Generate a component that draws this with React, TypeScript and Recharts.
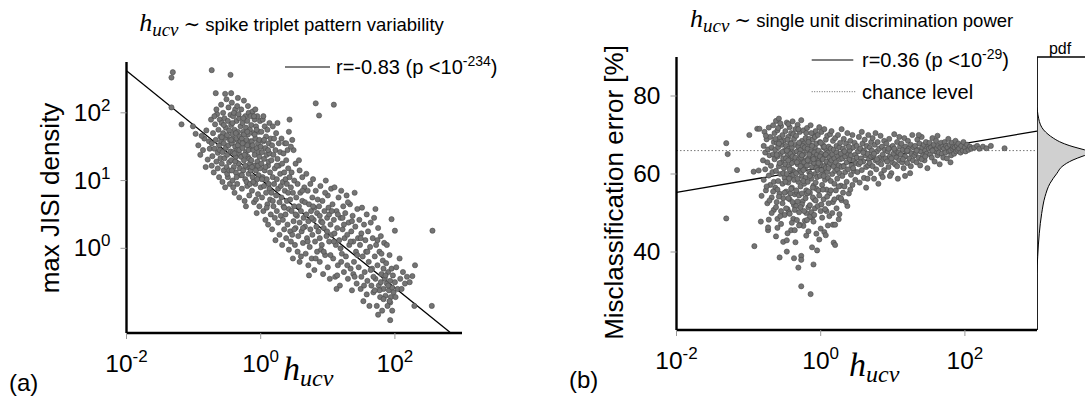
import React from 'react';
import { ComposedChart, Scatter, XAxis, YAxis, ReferenceLine, Area } from 'recharts';

// (a) log10(h_ucv) vs log10(max JISI density)
const jisiPoints: [number, number][] = [
  [-1.31, 2.6], [-1.33, 2.52], [-0.73, 2.63], [-0.45, 2.56], [-1.33, 2.08], [-1.18, 1.83], [-0.67, 2.29], [-0.44, 2.29],
  [-1.01, 1.8], [-0.97, 1.69], [0.82, 2.14], [1.09, 2.12], [0.87, 1.96], [2.56, 0.26], [2.55, -0.85], [1.95, 0.43],
  [2.0, 0.26], [2.26, -0.41], [1.93, -1.06], [1.93, -0.8], [2.29, -0.85],
  [-0.93, 1.52], [-0.9, 1.38], [-0.86, 1.45], [-0.84, 1.62], [-0.81, 1.74], [-0.79, 1.31], [-0.77, 1.58], [-0.76, 1.47], [-0.88, 1.66], [-0.82, 1.2],
  [-0.74, 1.9], [-0.73, 1.55], [-0.72, 1.36], [-0.71, 1.7], [-0.7, 1.12], [-0.69, 1.47], [-0.68, 1.83], [-0.67, 1.6], [-0.66, 1.28], [-0.65, 1.98],
  [-0.64, 1.41], [-0.63, 1.75], [-0.62, 1.52], [-0.62, 1.05], [-0.61, 1.9], [-0.6, 1.33], [-0.6, 1.65], [-0.73, 1.22], [-0.66, 2.05], [-0.64, 1.18],
  [-0.69, 1.95], [-0.61, 1.45],
  [-0.59, 2.12], [-0.59, 1.58], [-0.58, 1.25], [-0.58, 1.85], [-0.57, 0.98], [-0.57, 1.42], [-0.56, 1.7], [-0.56, 2.0], [-0.55, 1.15], [-0.55, 1.55],
  [-0.54, 1.33], [-0.54, 1.92], [-0.53, 1.63], [-0.53, 0.9], [-0.52, 1.48], [-0.52, 1.78], [-0.51, 2.2], [-0.51, 1.2], [-0.5, 1.38], [-0.5, 1.67],
  [-0.49, 1.05], [-0.49, 1.88], [-0.48, 1.52], [-0.48, 2.08], [-0.47, 1.27], [-0.47, 1.74], [-0.46, 1.6], [-0.46, 0.95], [-0.45, 1.43], [-0.45, 1.97],
  [-0.55, 1.82], [-0.5, 1.1], [-0.58, 1.64], [-0.53, 2.28], [-0.47, 1.15],
  [-0.44, 1.82], [-0.44, 1.3], [-0.43, 1.55], [-0.43, 2.15], [-0.42, 1.0], [-0.42, 1.68], [-0.41, 1.42], [-0.41, 1.95], [-0.4, 1.2], [-0.4, 1.6],
  [-0.39, 0.82], [-0.39, 1.75], [-0.38, 1.5], [-0.38, 2.05], [-0.37, 1.12], [-0.37, 1.35], [-0.36, 1.88], [-0.36, 1.62], [-0.35, 0.95], [-0.35, 1.45],
  [-0.34, 1.72], [-0.34, 2.22], [-0.33, 1.25], [-0.33, 1.55], [-0.32, 1.92], [-0.32, 0.75], [-0.31, 1.38], [-0.31, 1.65], [-0.3, 1.08], [-0.3, 1.8],
  [-0.42, 1.85], [-0.4, 2.0], [-0.38, 1.28], [-0.36, 1.05], [-0.34, 1.52], [-0.33, 1.98], [-0.31, 1.18], [-0.44, 1.6], [-0.41, 0.9], [-0.37, 1.7],
  [-0.35, 2.1], [-0.32, 1.45], [-0.43, 1.15], [-0.39, 1.4], [-0.3, 1.58],
  [-0.29, 2.05], [-0.29, 1.35], [-0.28, 1.62], [-0.28, 0.88], [-0.27, 1.48], [-0.27, 1.85], [-0.26, 1.15], [-0.26, 1.72], [-0.25, 1.3], [-0.25, 2.18],
  [-0.24, 0.7], [-0.24, 1.55], [-0.23, 1.95], [-0.23, 1.02], [-0.22, 1.42], [-0.22, 1.78], [-0.21, 1.2], [-0.21, 1.6], [-0.2, 0.92], [-0.2, 1.88],
  [-0.19, 1.35], [-0.19, 1.68], [-0.18, 2.0], [-0.18, 1.1], [-0.17, 1.5], [-0.17, 0.78], [-0.16, 1.75], [-0.16, 1.25], [-0.15, 1.58], [-0.15, 1.95],
  [-0.28, 1.08], [-0.26, 1.92], [-0.24, 1.38], [-0.22, 0.62], [-0.2, 1.52], [-0.19, 2.1], [-0.17, 1.32], [-0.25, 1.68], [-0.23, 1.22], [-0.21, 0.98],
  [-0.18, 1.45], [-0.16, 0.95], [-0.27, 1.55], [-0.2, 1.72], [-0.15, 1.15],
  [-0.14, 1.82], [-0.14, 1.3], [-0.13, 0.85], [-0.13, 1.58], [-0.12, 1.05], [-0.12, 2.02], [-0.11, 1.45], [-0.11, 1.7], [-0.1, 0.68], [-0.1, 1.22],
  [-0.09, 1.9], [-0.09, 1.38], [-0.08, 0.95], [-0.08, 1.62], [-0.07, 1.15], [-0.07, 1.8], [-0.06, 0.52], [-0.06, 1.48], [-0.05, 1.28], [-0.05, 1.95],
  [-0.04, 0.8], [-0.04, 1.55], [-0.03, 1.08], [-0.03, 1.72], [-0.02, 1.35], [-0.02, 0.62], [-0.01, 1.88], [-0.01, 1.18], [0.0, 1.5], [0.0, 0.9],
  [-0.13, 1.2], [-0.11, 0.98], [-0.09, 1.68], [-0.07, 0.72], [-0.05, 1.02], [-0.03, 1.42], [-0.12, 1.52], [-0.08, 2.05], [-0.06, 1.75], [-0.04, 1.22],
  [-0.02, 1.6], [-0.1, 1.95],
  [0.01, 1.72], [0.01, 1.25], [0.02, 0.75], [0.02, 1.42], [0.03, 1.9], [0.03, 1.05], [0.04, 0.55], [0.04, 1.58], [0.05, 1.32], [0.05, 0.92],
  [0.06, 1.8], [0.06, 1.15], [0.07, 0.42], [0.07, 1.48], [0.08, 1.65], [0.08, 0.82], [0.09, 1.02], [0.09, 1.38], [0.1, 0.65], [0.1, 1.75],
  [0.11, 1.22], [0.11, 0.35], [0.12, 1.55], [0.12, 0.95], [0.13, 1.4], [0.13, 1.85], [0.14, 0.72], [0.14, 1.12], [0.15, 1.62], [0.15, 0.5],
  [0.02, 1.02], [0.05, 1.6], [0.07, 1.2], [0.09, 0.6], [0.11, 1.45], [0.13, 0.88], [0.04, 1.95], [0.12, 1.28],
  [0.16, 1.3], [0.16, 0.82], [0.17, 1.52], [0.17, 0.28], [0.18, 1.05], [0.18, 1.8], [0.19, 0.62], [0.19, 1.38], [0.2, 0.95], [0.2, 1.62],
  [0.21, 0.45], [0.21, 1.18], [0.22, 1.45], [0.22, 0.12], [0.23, 0.78], [0.23, 1.7], [0.24, 1.02], [0.24, 0.55], [0.25, 1.32], [0.25, 1.85],
  [0.26, 0.38], [0.26, 0.88], [0.27, 1.22], [0.27, 1.55], [0.28, 0.68], [0.28, 0.2], [0.29, 1.1], [0.29, 1.42], [0.3, 0.48], [0.3, 0.92],
  [0.18, 0.7], [0.24, 1.22],
  [0.31, 1.62], [0.31, 0.75], [0.32, 1.25], [0.32, 0.05], [0.33, 0.98], [0.33, 0.42], [0.34, 1.4], [0.34, 0.62], [0.35, 1.12], [0.35, 0.28],
  [0.36, 0.85], [0.36, 1.55], [0.37, 0.5], [0.37, 1.02], [0.38, 0.15], [0.38, 1.3], [0.39, 0.7], [0.39, 0.95], [0.4, 1.45], [0.4, 0.35],
  [0.41, 0.82], [0.41, 1.18], [0.42, -0.02], [0.42, 0.58], [0.43, 1.05], [0.44, 0.72], [0.44, 0.25], [0.45, 0.9], [0.42, 1.72], [0.47, 1.6],
  [0.49, 1.45], [0.43, 1.9], [0.38, 1.55], [0.45, 1.5],
  [0.46, 0.55], [0.46, 1.12], [0.47, 0.2], [0.48, 0.82], [0.48, -0.15], [0.49, 0.4], [0.5, 1.0], [0.5, 0.62], [0.51, 0.05], [0.52, 1.25],
  [0.52, 0.3], [0.53, 0.75], [0.54, 0.48], [0.55, -0.05], [0.55, 0.95], [0.56, 0.18], [0.57, 0.62], [0.58, 1.15], [0.58, 0.38], [0.59, 0.82],
  [0.6, -0.12], [0.6, 0.55], [0.61, 0.25], [0.62, 1.05], [0.62, 0.7], [0.63, 0.08], [0.64, 0.45], [0.65, 0.9], [0.5, 0.28], [0.57, 1.3],
  [0.66, 0.32], [0.66, 0.68], [0.67, -0.08], [0.68, 1.1], [0.68, 0.5], [0.69, 0.15], [0.7, 0.85], [0.71, -0.25], [0.71, 0.4], [0.72, 0.65],
  [0.73, 0.02], [0.74, 0.95], [0.74, 0.28], [0.75, 0.55], [0.76, -0.15], [0.77, 0.75], [0.77, 0.2], [0.78, 1.02], [0.79, 0.42], [0.8, -0.32],
  [0.8, 0.6], [0.81, 0.1], [0.82, 0.85], [0.83, 0.32], [0.84, -0.05], [0.84, 0.52], [0.85, 0.72], [0.72, -0.4],
  [0.86, 0.25], [0.87, 0.62], [0.88, -0.2], [0.89, 0.92], [0.9, 0.4], [0.91, 0.05], [0.92, 0.7], [0.93, -0.38], [0.94, 0.3], [0.95, 0.55],
  [0.96, -0.1], [0.97, 1.0], [0.98, 0.18], [0.99, 0.45], [1.0, -0.28], [1.0, 0.78], [1.01, 0.6], [1.02, 0.1], [1.03, -0.45], [1.04, 0.35],
  [1.05, 0.88], [0.9, -0.02], [0.96, 0.82], [1.02, 0.5], [0.88, 0.48],
  [1.06, 0.2], [1.07, 0.65], [1.08, -0.15], [1.09, 0.42], [1.1, 0.9], [1.11, -0.42], [1.12, 0.05], [1.13, 0.55], [1.14, 0.3], [1.15, -0.25],
  [1.16, 0.75], [1.17, 0.12], [1.18, -0.55], [1.19, 0.45], [1.2, 0.85], [1.21, -0.08], [1.22, 0.28], [1.23, 0.62], [1.24, -0.35], [1.25, 0.15],
  [1.1, 0.22], [1.15, 0.5], [1.2, -0.2], [1.13, -0.6],
  [1.26, 0.52], [1.27, -0.12], [1.28, 0.78], [1.29, 0.2], [1.3, -0.45], [1.31, 0.38], [1.32, 0.05], [1.33, 0.65], [1.34, -0.3], [1.35, 0.25],
  [1.36, -0.62], [1.37, 0.48], [1.38, 0.1], [1.39, -0.2], [1.4, 0.82], [1.41, 0.32], [1.42, -0.05], [1.43, -0.52], [1.44, 0.58], [1.45, 0.15],
  [1.3, 0.68], [1.38, -0.38],
  [1.46, -0.28], [1.47, 0.42], [1.48, 0.05], [1.49, -0.6], [1.5, 0.22], [1.51, 0.6], [1.52, -0.12], [1.53, -0.78], [1.54, 0.35], [1.55, -0.35],
  [1.56, 0.12], [1.57, -0.05], [1.58, 0.5], [1.59, -0.48], [1.6, 0.25], [1.61, -0.2], [1.62, -0.85], [1.63, 0.02], [1.64, 0.38], [1.65, -0.55],
  [1.5, -0.42], [1.58, -0.68],
  [1.66, -0.3], [1.67, 0.15], [1.68, -0.65], [1.69, 0.45], [1.7, -0.12], [1.71, -0.45], [1.72, 0.05], [1.73, -0.85], [1.74, -0.25], [1.75, 0.3],
  [1.76, -0.55], [1.77, -0.05], [1.78, -0.72], [1.79, 0.18], [1.8, -0.38], [1.81, -0.92], [1.82, -0.18], [1.83, -0.6], [1.84, 0.08], [1.85, -0.45],
  [1.71, 0.58], [1.75, -0.98], [1.79, -0.5], [1.83, -0.3], [1.68, -0.42], [1.77, -0.62],
  [1.86, -0.7], [1.87, -0.22], [1.88, -0.52], [1.89, -0.85], [1.9, -0.35], [1.91, -0.62], [1.92, -0.1], [1.93, -0.48], [1.94, -0.72], [1.95, -0.3],
  [1.96, -0.58], [1.97, -0.4], [1.98, -0.65], [2.0, -0.5], [2.02, -0.28], [2.04, -0.6], [1.88, 0.05], [1.96, -0.92], [1.92, -0.78], [2.01, -0.72],
  [2.08, -0.45], [2.1, -0.6], [2.12, -0.35], [2.15, -0.52], [2.18, -0.42], [2.22, -0.5], [2.3, -0.25], [2.07, -0.15],
  [0.35, 0.6], [0.45, 0.1], [0.52, 0.5], [0.58, -0.2], [0.63, 0.3], [0.7, 0.1], [0.76, 0.45], [0.82, -0.15], [0.88, 0.15], [0.94, -0.05],
  [0.99, 0.25], [1.04, -0.1], [1.09, 0.1], [1.14, -0.4], [1.19, 0.0], [1.24, 0.35], [1.29, -0.25], [1.34, 0.1], [1.4, -0.42], [1.44, -0.1],
  [1.49, 0.15], [1.54, -0.55], [1.59, -0.05], [1.64, -0.32], [1.7, -0.62], [1.74, 0.12], [1.8, -0.08], [1.86, -0.4], [1.9, -0.55], [1.83, -0.75],
  [0.62, 0.85], [0.78, 0.62], [0.92, 0.38], [1.06, 0.55], [1.22, 0.45], [1.36, 0.4],
];
const jisiFit = [{ x: -2, y: 2.62 }, { x: 2.82, y: -1.24 }];
const jisiXTicks = [-2, 0, 2];
const jisiYTicks = [0, 1, 2];

// (b) log10(h_ucv) vs misclassification error [%]
const errPoints: [number, number][] = [
  [-1.31, 67.9], [-1.29, 65.1], [-1.16, 61.0], [-0.99, 70.0], [-1.31, 48.6], [-0.92, 41.5], [-0.88, 71.6], [-0.85, 71.6],
  [-0.93, 60.6], [-0.86, 60.9], [-0.82, 54.4], [-0.27, 31.2], [-0.14, 29.2], [-0.31, 36.0], [-0.1, 36.8], [2.55, 66.6], [1.8, 63.0],
  [-0.8, 63.5], [-0.79, 67.2], [-0.79, 58.5], [-0.78, 70.8], [-0.77, 61.2], [-0.77, 65.5], [-0.76, 55.8], [-0.75, 68.9], [-0.74, 63.0], [-0.74, 52.5],
  [-0.73, 66.3], [-0.72, 71.9], [-0.72, 59.6], [-0.71, 64.8], [-0.7, 57.2], [-0.7, 69.5], [-0.69, 62.1], [-0.68, 66.8], [-0.68, 54.0], [-0.67, 60.5],
  [-0.66, 72.5], [-0.66, 65.0], [-0.65, 58.0], [-0.65, 68.2], [-0.76, 69.8],
  [-0.64, 63.8], [-0.64, 70.5], [-0.63, 56.5], [-0.63, 66.2], [-0.62, 73.6], [-0.62, 60.8], [-0.61, 68.0], [-0.61, 52.8], [-0.6, 64.5], [-0.6, 71.2],
  [-0.59, 58.2], [-0.59, 66.9], [-0.58, 62.0], [-0.58, 74.2], [-0.57, 55.0], [-0.57, 69.3], [-0.56, 65.2], [-0.56, 60.0], [-0.55, 72.3], [-0.55, 50.5],
  [-0.54, 67.5], [-0.54, 63.0], [-0.53, 57.5], [-0.53, 70.0], [-0.52, 64.0], [-0.52, 53.8], [-0.51, 68.6], [-0.51, 61.5], [-0.5, 66.0], [-0.5, 59.0],
  [-0.63, 69.0], [-0.61, 64.9], [-0.59, 71.8], [-0.57, 62.8], [-0.55, 68.3], [-0.53, 65.7], [-0.6, 56.0], [-0.56, 73.0], [-0.52, 60.2], [-0.58, 67.8],
  [-0.49, 71.0], [-0.49, 62.5], [-0.48, 55.5], [-0.48, 67.2], [-0.47, 73.2], [-0.47, 60.0], [-0.46, 64.8], [-0.46, 51.0], [-0.45, 69.5], [-0.45, 57.8],
  [-0.44, 66.5], [-0.44, 62.0], [-0.43, 72.0], [-0.43, 53.5], [-0.42, 68.0], [-0.42, 59.2], [-0.41, 64.0], [-0.41, 70.5], [-0.4, 56.5], [-0.4, 66.8],
  [-0.39, 61.0], [-0.39, 73.5], [-0.38, 48.5], [-0.38, 65.5], [-0.37, 58.5], [-0.37, 69.0], [-0.36, 63.2], [-0.36, 54.8], [-0.35, 67.5], [-0.35, 71.5],
  [-0.48, 64.0], [-0.46, 68.8], [-0.44, 58.8], [-0.42, 65.2], [-0.4, 62.8], [-0.38, 70.2], [-0.36, 60.5], [-0.47, 66.0], [-0.45, 63.5], [-0.43, 61.2],
  [-0.41, 67.8], [-0.39, 64.5], [-0.37, 52.0], [-0.49, 58.0], [-0.45, 72.8], [-0.42, 55.0], [-0.38, 59.8], [-0.35, 64.2],
  [-0.34, 69.8], [-0.34, 60.2], [-0.33, 65.8], [-0.33, 55.2], [-0.32, 72.6], [-0.32, 62.5], [-0.31, 58.0], [-0.31, 67.0], [-0.3, 63.8], [-0.3, 50.2],
  [-0.29, 70.8], [-0.29, 61.0], [-0.28, 66.2], [-0.28, 56.8], [-0.27, 73.8], [-0.27, 64.2], [-0.26, 59.5], [-0.26, 68.5], [-0.25, 53.0], [-0.25, 62.8],
  [-0.24, 71.2], [-0.24, 65.0], [-0.23, 57.5], [-0.23, 67.8], [-0.22, 61.5], [-0.22, 48.0], [-0.21, 69.2], [-0.21, 63.5], [-0.2, 55.8], [-0.2, 66.0],
  [-0.33, 63.0], [-0.31, 71.5], [-0.29, 65.2], [-0.27, 60.5], [-0.25, 67.2], [-0.23, 63.0], [-0.21, 59.0], [-0.32, 58.8], [-0.3, 68.0], [-0.28, 62.0],
  [-0.26, 64.8], [-0.24, 58.2], [-0.22, 66.8], [-0.34, 51.8], [-0.3, 54.5], [-0.26, 52.2], [-0.24, 61.0], [-0.2, 70.5],
  [-0.19, 62.2], [-0.19, 71.8], [-0.18, 58.0], [-0.18, 66.5], [-0.17, 64.0], [-0.17, 51.5], [-0.16, 69.0], [-0.16, 60.5], [-0.15, 67.5], [-0.15, 55.2],
  [-0.14, 63.2], [-0.14, 72.5], [-0.13, 58.8], [-0.13, 65.8], [-0.12, 61.8], [-0.12, 48.8], [-0.11, 68.8], [-0.11, 64.5], [-0.1, 57.0], [-0.1, 70.2],
  [-0.09, 62.8], [-0.09, 53.5], [-0.08, 66.8], [-0.08, 60.0], [-0.07, 71.0], [-0.07, 64.0], [-0.06, 56.2], [-0.06, 67.8], [-0.05, 62.0], [-0.05, 59.2],
  [-0.18, 63.5], [-0.16, 65.0], [-0.14, 60.0], [-0.12, 67.2], [-0.1, 63.8], [-0.08, 69.5], [-0.06, 61.5], [-0.17, 68.2], [-0.15, 59.5], [-0.13, 70.5],
  [-0.11, 54.0], [-0.09, 65.5], [-0.07, 57.8], [-0.19, 55.0], [-0.05, 65.0],
  [-0.04, 70.0], [-0.04, 61.0], [-0.03, 66.0], [-0.03, 55.8], [-0.02, 63.5], [-0.02, 72.0], [-0.01, 59.5], [-0.01, 68.2], [0.0, 62.5], [0.0, 50.5],
  [0.01, 65.2], [0.01, 70.8], [0.02, 57.2], [0.02, 64.0], [0.03, 67.5], [0.03, 60.8], [0.04, 53.5], [0.04, 66.8], [0.05, 62.0], [0.05, 71.5],
  [0.06, 58.5], [0.06, 64.8], [0.07, 68.8], [0.07, 61.5], [0.08, 56.0], [0.08, 66.2], [0.09, 63.0], [0.09, 69.8], [0.1, 59.0], [0.1, 65.5],
  [-0.03, 62.8], [-0.01, 64.5], [0.01, 61.0], [0.03, 63.8], [0.05, 67.0], [0.07, 65.0], [0.09, 60.5], [0.0, 68.0], [0.04, 59.5], [0.08, 63.2],
  [0.11, 67.0], [0.11, 61.5], [0.12, 64.2], [0.12, 55.0], [0.13, 70.2], [0.13, 62.8], [0.14, 58.2], [0.14, 66.5], [0.15, 63.5], [0.15, 71.0],
  [0.16, 60.0], [0.16, 65.0], [0.17, 68.5], [0.17, 52.8], [0.18, 62.0], [0.18, 66.2], [0.19, 57.5], [0.19, 64.0], [0.2, 69.2], [0.2, 60.8],
  [0.21, 63.0], [0.21, 55.8], [0.22, 67.2], [0.22, 65.5], [0.23, 61.2], [0.23, 58.8], [0.24, 70.0], [0.24, 64.5], [0.25, 62.2], [0.25, 54.0],
  [0.26, 66.8], [0.26, 60.2], [0.27, 63.8], [0.27, 68.0], [0.28, 57.0], [0.28, 65.2], [0.29, 61.8], [0.29, 71.5], [0.3, 64.0], [0.3, 59.5],
  [0.31, 66.5], [0.32, 62.0], [0.32, 69.0], [0.33, 56.8], [0.34, 64.5], [0.34, 60.5], [0.35, 67.8], [0.36, 63.0], [0.36, 58.0], [0.37, 70.5],
  [0.38, 65.2], [0.38, 61.2], [0.39, 55.0], [0.4, 66.0], [0.4, 63.8], [0.41, 68.5], [0.42, 59.8], [0.42, 64.8], [0.43, 62.2], [0.44, 70.0],
  [0.44, 57.2], [0.45, 66.8], [0.46, 63.5], [0.46, 60.8], [0.47, 68.0], [0.48, 65.0], [0.48, 58.5], [0.49, 62.8], [0.5, 67.2], [0.5, 64.2],
  [0.33, 65.8], [0.39, 67.0], [0.45, 61.5], [0.41, 56.0],
  [0.51, 60.5], [0.52, 65.8], [0.53, 69.5], [0.53, 62.5], [0.54, 57.8], [0.55, 66.5], [0.56, 64.0], [0.57, 70.8], [0.57, 61.0], [0.58, 67.8],
  [0.59, 63.2], [0.6, 59.0], [0.6, 66.0], [0.61, 68.8], [0.62, 64.8], [0.63, 61.8], [0.63, 56.5], [0.64, 67.2], [0.65, 65.2], [0.66, 62.2],
  [0.66, 70.0], [0.67, 63.8], [0.68, 66.8], [0.69, 60.2], [0.7, 68.2], [0.7, 64.5], [0.55, 63.0], [0.59, 65.5], [0.65, 58.8], [0.68, 62.8],
  [0.71, 66.0], [0.72, 62.0], [0.72, 69.2], [0.73, 64.8], [0.74, 58.8], [0.75, 67.5], [0.76, 63.5], [0.76, 70.5], [0.77, 61.2], [0.78, 65.8],
  [0.79, 68.2], [0.8, 63.0], [0.8, 57.5], [0.81, 66.5], [0.82, 64.2], [0.83, 69.8], [0.84, 62.5], [0.84, 60.0], [0.85, 67.0], [0.86, 65.0],
  [0.87, 63.8], [0.88, 68.5], [0.88, 61.0], [0.89, 66.2], [0.9, 64.0], [0.74, 65.2], [0.78, 63.8], [0.86, 59.2],
  [0.91, 67.8], [0.92, 63.2], [0.93, 65.8], [0.94, 61.8], [0.95, 69.0], [0.96, 64.5], [0.97, 66.8], [0.98, 60.2], [0.99, 63.0], [1.0, 67.2],
  [1.01, 65.2], [1.02, 70.2], [1.03, 62.5], [1.04, 66.0], [1.05, 64.2], [1.06, 68.2], [1.07, 58.8], [1.08, 65.5], [1.09, 63.5], [1.1, 67.0],
  [0.94, 66.5], [0.98, 64.0], [1.02, 66.5], [1.06, 62.0], [0.96, 59.5], [1.09, 69.5],
  [1.11, 65.0], [1.12, 67.8], [1.13, 63.0], [1.14, 66.2], [1.15, 61.5], [1.16, 69.2], [1.17, 64.5], [1.18, 67.0], [1.19, 65.8], [1.2, 62.8],
  [1.21, 68.5], [1.22, 66.5], [1.23, 64.0], [1.24, 60.2], [1.25, 67.5], [1.26, 65.2], [1.27, 70.0], [1.28, 63.5], [1.29, 66.8], [1.3, 64.8],
  [1.14, 63.8], [1.2, 66.0], [1.25, 62.0], [1.17, 59.5],
  [1.31, 67.2], [1.32, 65.5], [1.33, 63.0], [1.34, 68.8], [1.35, 66.2], [1.36, 64.2], [1.37, 67.8], [1.38, 62.2], [1.39, 65.8], [1.4, 69.5],
  [1.41, 66.8], [1.42, 64.8], [1.43, 67.5], [1.44, 63.5], [1.45, 66.0], [1.46, 68.2], [1.47, 65.2], [1.48, 61.5], [1.49, 67.0], [1.5, 66.5],
  [1.36, 70.0], [1.4, 63.8], [1.45, 64.5], [1.33, 66.0],
  [1.51, 68.0], [1.52, 65.0], [1.53, 66.8], [1.54, 64.2], [1.55, 69.2], [1.56, 66.2], [1.57, 67.5], [1.58, 63.2], [1.59, 65.8], [1.6, 68.5],
  [1.61, 66.5], [1.62, 64.8], [1.63, 67.2], [1.64, 65.5], [1.65, 62.5], [1.66, 66.8], [1.67, 68.0], [1.68, 65.2], [1.69, 67.0], [1.7, 64.2],
  [1.55, 66.0], [1.62, 69.8],
  [1.71, 66.5], [1.72, 68.2], [1.73, 65.5], [1.74, 67.2], [1.75, 64.0], [1.76, 66.8], [1.77, 69.0], [1.78, 65.8], [1.79, 67.5], [1.8, 66.0],
  [1.81, 64.8], [1.82, 68.0], [1.83, 66.5], [1.84, 67.0], [1.85, 65.2], [1.86, 66.8], [1.87, 68.5], [1.88, 65.8], [1.89, 67.2], [1.9, 66.2],
  [1.91, 67.8], [1.92, 66.5], [1.94, 65.5], [1.95, 67.2], [1.97, 66.0], [1.98, 68.2], [2.0, 66.8], [2.01, 65.8], [2.03, 67.5], [2.05, 66.2],
  [2.07, 67.0], [2.09, 66.5], [2.13, 66.8], [2.17, 67.2], [2.2, 66.5], [2.25, 67.0], [2.3, 66.6], [2.36, 67.2],
  [-0.83, 47.8], [-0.72, 48.3], [-0.6, 48.5], [-0.73, 45.6], [-0.73, 46.3], [-0.57, 38.6], [-0.47, 40.1], [-0.37, 38.4], [-0.27, 39.0], [-0.27, 38.0],
  [-0.12, 41.2], [-0.05, 40.4], [-0.52, 42.6], [-0.47, 43.0], [-0.41, 45.6], [-0.36, 45.6], [-0.24, 46.7], [-0.17, 45.3], [-0.06, 44.7], [0.05, 45.1],
  [0.07, 44.3], [0.18, 42.4], [0.2, 41.8], [0.17, 47.0], [0.2, 47.0], [0.25, 48.4], [0.26, 49.7], [0.37, 51.8], [0.29, 53.3],
  [-0.65, 50.8], [-0.55, 47.2], [-0.5, 49.5], [-0.44, 50.2], [-0.33, 48.2], [-0.29, 47.0], [-0.2, 50.0], [-0.15, 49.0], [-0.08, 51.2], [0.02, 48.8],
  [0.08, 50.5], [0.12, 49.2], [-0.62, 44.0], [-0.4, 47.5], [-0.1, 47.8], [0.0, 46.0],
  [-0.75, 56.8], [-0.71, 53.2], [-0.68, 50.0], [-0.66, 55.5], [-0.62, 51.5], [-0.58, 54.2], [-0.56, 49.2], [-0.53, 52.5], [-0.5, 55.2], [-0.48, 51.2],
  [-0.45, 53.8], [-0.43, 49.8], [-0.41, 56.2], [-0.39, 52.8], [-0.36, 50.8], [-0.34, 55.8], [-0.32, 53.0], [-0.3, 46.8], [-0.28, 51.5], [-0.26, 55.0],
  [-0.23, 50.5], [-0.21, 53.8], [-0.19, 48.2], [-0.17, 55.5], [-0.15, 52.0], [-0.13, 50.2], [-0.11, 56.5], [-0.09, 49.5], [-0.07, 53.2], [-0.04, 51.8],
  [-0.02, 54.5], [0.01, 52.2], [0.03, 56.0], [0.06, 51.0], [0.09, 54.2], [0.11, 52.5], [0.14, 55.8], [0.16, 50.0], [0.19, 53.5], [0.22, 51.2],
  [0.25, 56.8], [0.28, 53.8], [0.31, 55.2], [0.35, 52.8], [-0.6, 46.2], [-0.46, 44.8], [-0.2, 44.2], [0.1, 46.8], [-0.35, 42.5], [-0.02, 43.2],
];
const errFit = [{ x: -2, y: 55.3 }, { x: 3, y: 71.0 }];
const chanceLevel = 66;
const errXTicks = [-2, 0, 2];
const errYTicks = [40, 60, 80];

// marginal pdf of the error values (side panel)
const pdfLevels = [20, 34.5, 38.8, 44.8, 49.9, 54.2, 57.6, 60.2, 61.9, 63.6, 64.6, 65.5, 66.3, 67.0, 68.0, 69.2, 70.2, 71.3, 72.6, 74.3, 76.0, 77.3, 90];
const pdfDensity = [0, 0, 0.0007, 0.0023, 0.0047, 0.008, 0.013, 0.02, 0.025, 0.036, 0.046, 0.056, 0.046, 0.036, 0.025, 0.0163, 0.011, 0.0066, 0.0035, 0.0016, 0.0005, 0, 0];

const jisiData = jisiPoints.map(([x, y]) => ({ x, y }));
const errData = errPoints.map(([x, y]) => ({ x, y }));
const pdfData = pdfLevels.map((v, i) => ({ v, d: pdfDensity[i] }));

const sans = '"Liberation Sans", Arial, sans-serif';
const serif = '"Liberation Serif", "DejaVu Serif", serif';

const Dot = (props: any) => (
  <circle cx={props.cx} cy={props.cy} r={2.6} fill="#747474" stroke="#4a4a4a" strokeWidth={0.6} />
);

const PowTickX = (props: any) => (
  <text x={props.x} y={props.y + 31} textAnchor="middle" fontSize={24.5} fontFamily={sans} fill="#000">
    10<tspan fontSize={17} dy={-10}>{props.payload.value}</tspan>
  </text>
);

const PowTickY = (props: any) => (
  <text x={props.x - 8} y={props.y + 8} textAnchor="end" fontSize={24.5} fontFamily={sans} fill="#000">
    10<tspan fontSize={17} dy={-10}>{props.payload.value}</tspan>
  </text>
);

const NumTickY = (props: any) => (
  <text x={props.x - 8} y={props.y + 8} textAnchor="end" fontSize={24.5} fontFamily={sans} fill="#000">
    {props.payload.value}
  </text>
);

const axisLine = { stroke: '#000', strokeWidth: 2.4 };
const tickLine = { stroke: '#999', strokeWidth: 1 };

const HLabel = ({ x, y, size, sub }: { x: number; y: number; size: number; sub: number }) => (
  <text x={x} y={y} fontFamily={serif} fontStyle="italic" fill="#000">
    <tspan fontSize={size}>h</tspan>
    <tspan fontSize={sub} dy={size * 0.18}>ucv</tspan>
  </text>
);

export default function App() {
  return (
    <div style={{ position: 'absolute', left: 0, top: 0, width: 1085, height: 396, overflow: 'hidden', background: '#fff' }}>
      <div style={{ position: 'absolute', left: 0, top: 0 }}>
        <ComposedChart width={480} height={396} margin={{ top: 62, right: 18, bottom: 0, left: 0 }}>
          <XAxis type="number" dataKey="x" domain={[-2, 3]} ticks={jisiXTicks} interval={0} allowDataOverflow
            height={63} axisLine={axisLine} tickLine={tickLine} tickSize={6} tick={<PowTickX />} />
          <YAxis type="number" dataKey="y" domain={[-1.25, 2.75]} ticks={jisiYTicks} interval={0} allowDataOverflow
            width={126.5} axisLine={axisLine} tickLine={tickLine} tickSize={6} tick={<PowTickY />} />
          <Scatter data={jisiData} shape={Dot} isAnimationActive={false} />
          <ReferenceLine segment={jisiFit} stroke="#000" strokeWidth={1.3} ifOverflow="visible" />
        </ComposedChart>
      </div>
      <div style={{ position: 'absolute', left: 540, top: 0 }}>
        <ComposedChart width={520} height={396} margin={{ top: 57, right: 23, bottom: 0, left: 0 }}>
          <XAxis type="number" dataKey="x" domain={[-2, 3]} ticks={errXTicks} interval={0} allowDataOverflow
            height={66} axisLine={axisLine} tickLine={tickLine} tickSize={6} tick={<PowTickX />} />
          <YAxis type="number" dataKey="y" domain={[20, 90]} ticks={errYTicks} interval={0} allowDataOverflow
            width={136.5} axisLine={axisLine} tickLine={tickLine} tickSize={6} tick={<NumTickY />} />
          <ReferenceLine y={chanceLevel} stroke="#777" strokeWidth={1} strokeDasharray="1.5 2" />
          <Scatter data={errData} shape={Dot} isAnimationActive={false} />
          <ReferenceLine segment={errFit} stroke="#000" strokeWidth={1.3} ifOverflow="visible" />
        </ComposedChart>
      </div>
      <div style={{ position: 'absolute', left: 1037, top: 0 }}>
        <ComposedChart layout="vertical" width={120} height={396} data={pdfData} margin={{ top: 57, right: 0, bottom: 66, left: 0 }}>
          <XAxis type="number" domain={[0, 0.12]} hide allowDataOverflow />
          <YAxis type="number" dataKey="v" domain={[20, 90]} reversed hide allowDataOverflow />
          <Area type="monotone" dataKey="d" stroke="#000" strokeWidth={1} fill="#d0d0d0" fillOpacity={1} isAnimationActive={false} />
          <ReferenceLine x={0} stroke="#000" strokeWidth={1.5} />
          <ReferenceLine y={90} stroke="#000" strokeWidth={1.5} />
        </ComposedChart>
      </div>
      <svg width={1085} height={396} style={{ position: 'absolute', left: 0, top: 0, pointerEvents: 'none' }} fontFamily={sans}>
        {/* titles */}
        <text x={291.5} y={31} textAnchor="middle" fill="#000">
          <tspan fontFamily={serif} fontStyle="italic" fontSize={26}>h</tspan>
          <tspan fontFamily={serif} fontStyle="italic" fontSize={19} dy={5}>ucv</tspan>
          <tspan fontFamily={serif} fontSize={20} dy={-5}>{' \u223C '}</tspan>
          <tspan fontSize={18.5}>spike triplet pattern variability</tspan>
        </text>
        <text x={851.6} y={27} textAnchor="middle" fill="#000">
          <tspan fontFamily={serif} fontStyle="italic" fontSize={26}>h</tspan>
          <tspan fontFamily={serif} fontStyle="italic" fontSize={19} dy={5}>ucv</tspan>
          <tspan fontFamily={serif} fontSize={20} dy={-5}>{' \u223C '}</tspan>
          <tspan fontSize={18.5}>single unit discrimination power</tspan>
        </text>

        {/* legend (a) */}
        <line x1={285} x2={330} y1={67} y2={67} stroke="#000" strokeWidth={1.2} />
        <text x={336} y={74} fontSize={20} fill="#000">
          r=-0.83 (p &lt;10<tspan fontSize={14} dy={-8}>-234</tspan><tspan dy={8}>)</tspan>
        </text>

        {/* legend (b) */}
        <line x1={811.7} x2={853.3} y1={60} y2={60} stroke="#000" strokeWidth={1.2} />
        <text x={862} y={67} fontSize={20} fill="#000">
          r=0.36 (p &lt;10<tspan fontSize={14} dy={-8}>-29</tspan><tspan dy={8}>)</tspan>
        </text>
        <line x1={811.7} x2={856} y1={91.7} y2={91.7} stroke="#666" strokeWidth={1} strokeDasharray="1 1.5" />
        <text x={862} y={98.5} fontSize={20} fill="#000">chance level</text>

        {/* axis labels */}
        <text transform="translate(59,198) rotate(-90)" textAnchor="middle" fontSize={26} fill="#000">max JISI density</text>
        <text transform="translate(623,192.5) rotate(-90)" textAnchor="middle" fontSize={26} fill="#000">Misclassification error [%]</text>
        <HLabel x={283} y={380} size={34} sub={24} />
        <HLabel x={849} y={376} size={34} sub={24} />
        <text x={1060} y={54} textAnchor="middle" fontSize={16} fill="#000">pdf</text>

        {/* panel letters */}
        <text x={9} y={391} fontSize={24} fill="#000">(a)</text>
        <text x={569} y={388} fontSize={24} fill="#000">(b)</text>
      </svg>
    </div>
  );
}
